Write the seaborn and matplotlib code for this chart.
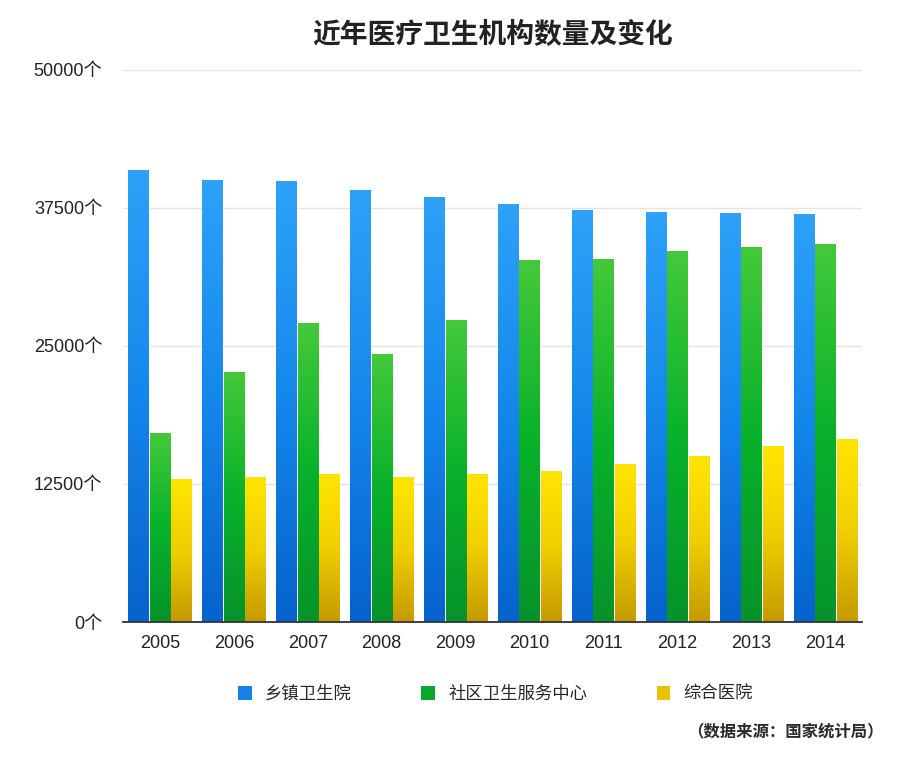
import matplotlib
matplotlib.use("Agg")
import matplotlib.pyplot as plt
import numpy as np
import pandas as pd
import seaborn as sns
from matplotlib.colors import LinearSegmentedColormap
from matplotlib.patches import Patch


YEARS = ["2005", "2006", "2007", "2008", "2009", "2010", "2011", "2012", "2013", "2014"]
TOWNSHIP = [40907, 39975, 39876, 39080, 38475, 37836, 37295, 37097, 37015, 36902]
COMMUNITY = [17128, 22656, 27069, 24260, 27308, 32739, 32860, 33562, 33965, 34238]
GENERAL = [12982, 13120, 13372, 13119, 13364, 13681, 14328, 15021, 15887, 16524]
SERIES = ["乡镇卫生院", "社区卫生服务中心", "综合医院"]
Y_TICKS = [0, 12500, 25000, 37500, 50000]

# top -> bottom gradient colours per series
GRADIENTS = [
    ["#2ea2f8", "#1487ec", "#0662cc"],
    ["#45c93a", "#08b22a", "#06932a"],
    ["#ffe600", "#f0cf00", "#c59a00"],
]
SOLID = ["#1a82e6", "#0aa82a", "#e8c400"]


def main():
    df = pd.DataFrame({
        "year": YEARS * 3,
        "count": TOWNSHIP + COMMUNITY + GENERAL,
        "type": [s for s in SERIES for _ in YEARS],
    })

    sns.set_style("white")
    plt.rcParams["font.family"] = ["Liberation Sans", "Noto Sans CJK SC"]

    fig = plt.figure(figsize=(9, 7.59), dpi=100)
    ax = fig.add_axes([0.1367, 0.1805, 0.8213, 0.7278])

    sns.barplot(data=df, x="year", y="count", hue="type", hue_order=SERIES,
                palette=SOLID, width=0.87, gap=0.06, saturation=1,
                legend=False, ax=ax)

    # vertical gradient inside each bar
    grad = np.linspace(0, 1, 256).reshape(-1, 1)
    for container, stops in zip(ax.containers, GRADIENTS):
        cmap = LinearSegmentedColormap.from_list("g", stops)
        for bar in container:
            x0, y0 = bar.get_x(), bar.get_y()
            w, h = bar.get_width(), bar.get_height()
            im = ax.imshow(grad, cmap=cmap, aspect="auto",
                           extent=[x0, x0 + w, y0, y0 + h],
                           origin="upper", zorder=bar.get_zorder() + 0.1)
            im.set_clip_path(bar)

    ax.set_xlim(-0.5, len(YEARS) - 0.5)
    ax.set_ylim(0, 50000)
    ax.set_yticks(Y_TICKS)
    ax.set_yticklabels([f"{t}个" for t in Y_TICKS])
    ax.set_xlabel("")
    ax.set_ylabel("")
    ax.yaxis.grid(True, color="#e4e4e4", linewidth=1)
    ax.set_axisbelow(True)
    for side in ["top", "right", "left"]:
        ax.spines[side].set_visible(False)
    ax.spines["bottom"].set_color("#333333")
    ax.spines["bottom"].set_linewidth(1.3)
    ax.spines["bottom"].set_zorder(5)
    ax.tick_params(axis="y", length=0, pad=15, labelsize=13, labelcolor="#222222")
    ax.tick_params(axis="x", length=0, pad=9, labelsize=13, labelcolor="#222222")

    fig.text(0.547, 1 - 35 / 759, "近年医疗卫生机构数量及变化", ha="center", va="center",
             fontsize=20, fontweight="bold", color="#222222",
             family=["Noto Sans CJK SC", "DejaVu Sans"])

    handles = [Patch(facecolor=c, edgecolor="none") for c in SOLID]
    fig.legend(handles, SERIES, loc="center", bbox_to_anchor=(495.5 / 900, 1 - 694 / 759),
               ncol=3, frameon=False, fontsize=12.5, handlelength=0.8,
               handleheight=0.8, handletextpad=0.75, columnspacing=4.0,
               prop={"family": ["Noto Sans CJK SC", "DejaVu Sans"], "size": 12.5})

    fig.text(884 / 900, 1 - 731 / 759, "（数据来源：国家统计局）", ha="right", va="center",
             fontsize=11.8, fontweight="bold", color="#2a2a2a",
             family=["Noto Sans CJK SC", "DejaVu Sans"])

    fig.savefig("out.png", dpi=100, facecolor="white")


if __name__ == "__main__":
    main()
